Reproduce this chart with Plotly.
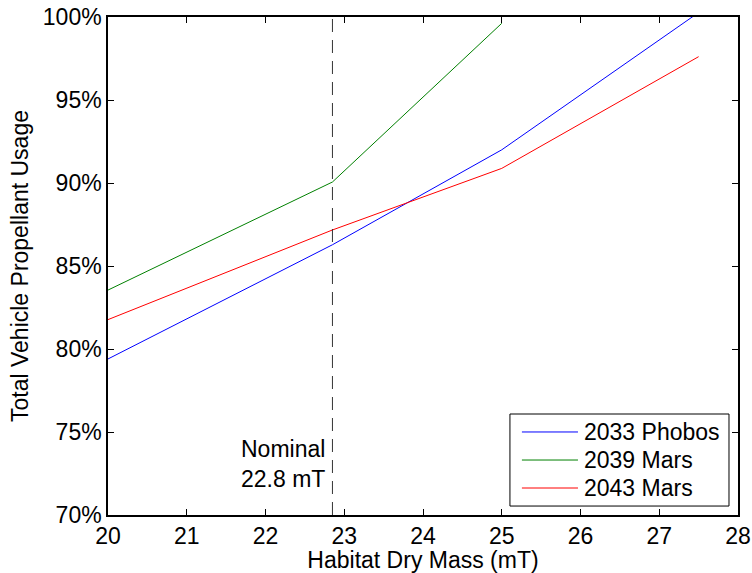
import plotly.graph_objects as go

# Habitat dry mass sweep (mT) and resulting propellant usage (% of capacity)
mass = [20, 22.85, 25, 27.5]
phobos_2033 = [79.40, 86.28, 92.00, 100.27]
mars_2039 = [83.55, 90.06, 99.62]
mars_2043 = [81.77, 87.17, 90.88, 97.61]

nominal_mass = 22.85
series_names = ["2033 Phobos", "2039 Mars", "2043 Mars"]
series_colors = ["#0000FF", "#008000", "#FF0000"]
x_ticks = [20, 21, 22, 23, 24, 25, 26, 27, 28]
y_ticks = [70, 75, 80, 85, 90, 95, 100]
y_tick_labels = [f"{v}%" for v in y_ticks]

FONT = "Liberation Sans, Arial, Helvetica, sans-serif"
FS = 23

fig = go.Figure()
for name, ys, col in zip(series_names, [phobos_2033, mars_2039, mars_2043], series_colors):
    fig.add_trace(go.Scatter(
        x=mass[:len(ys)], y=ys, mode="lines", name=name,
        line=dict(color=col, width=1), showlegend=False,
    ))

# nominal habitat mass marker
fig.add_shape(type="line", xref="x", yref="y",
              x0=nominal_mass, x1=nominal_mass, y0=y_ticks[0], y1=y_ticks[-1],
              line=dict(color="#333333", width=1, dash="13px,8px"))
fig.add_annotation(x=nominal_mass, y=73.1, xref="x", yref="y",
                   text="Nominal<br>22.8 mT", showarrow=False,
                   xanchor="right", yanchor="middle", align="right", xshift=-5,
                   font=dict(family=FONT, size=FS, color="black"))

# legend box drawn in paper coordinates
fig.add_shape(type="rect", xref="paper", yref="paper",
              x0=0.638, x1=0.9857, y0=0.018, y1=0.2028,
              line=dict(color="black", width=1), fillcolor="white", layer="above")
row_y = [0.1667, 0.1104, 0.0542]
for name, col, ry in zip(series_names, series_colors, row_y):
    fig.add_shape(type="line", xref="paper", yref="paper",
                  x0=0.657, x1=0.746, y0=ry, y1=ry,
                  line=dict(color=col, width=1), layer="above")
    fig.add_annotation(x=0.752, y=ry, xref="paper", yref="paper",
                       text=name, showarrow=False, xanchor="left", yanchor="middle",
                       font=dict(family=FONT, size=FS, color="black"))

axis_common = dict(
    showline=True, linecolor="black", linewidth=1.5, mirror="ticks",
    ticks="inside", ticklen=6, tickcolor="black", tickwidth=1,
    showgrid=False, zeroline=False, automargin=False,
    tickfont=dict(family=FONT, size=FS, color="black"),
)
fig.update_xaxes(range=[20, 28], tickmode="array", tickvals=x_ticks,
                 ticktext=[str(v) for v in x_ticks],
                 title=dict(text="Habitat Dry Mass (mT)", standoff=2,
                            font=dict(family=FONT, size=FS, color="black")),
                 **axis_common)
fig.update_yaxes(range=[70, 100], tickmode="array", tickvals=y_ticks,
                 ticktext=y_tick_labels,
                 title=dict(text="Total Vehicle Propellant Usage", standoff=8,
                            font=dict(family=FONT, size=FS, color="black")),
                 **axis_common)

fig.update_layout(
    width=752, height=573,
    margin=dict(l=108, r=14, t=17, b=58),
    paper_bgcolor="white", plot_bgcolor="white",
    font=dict(family=FONT, size=FS, color="black"),
    showlegend=False,
)

fig.write_html("out.html")
